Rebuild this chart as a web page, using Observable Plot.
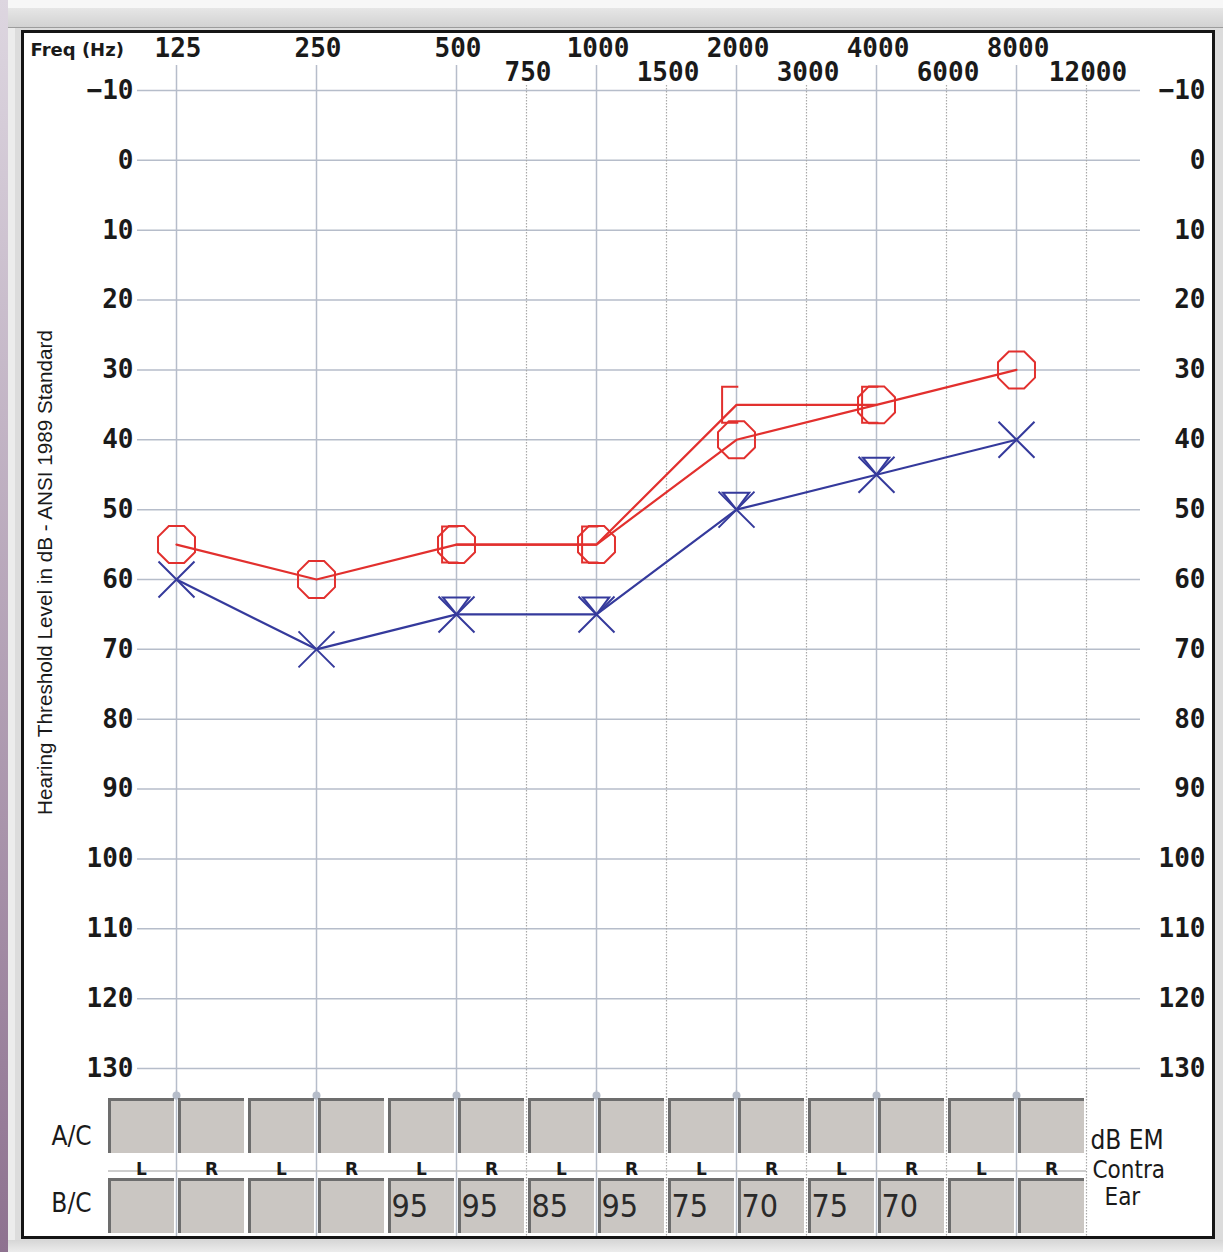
<!DOCTYPE html>
<html><head><meta charset="utf-8">
<script src="https://cdn.jsdelivr.net/npm/d3@7"></script>
<script src="https://cdn.jsdelivr.net/npm/@observablehq/plot@0.6"></script>
<style>
html,body{margin:0;padding:0;}
body{width:1223px;height:1252px;position:relative;overflow:hidden;background:#dcdcdc;}
#topband{position:absolute;left:0;top:0;width:1223px;height:8px;background:#f7f7f7;}
#band{position:absolute;left:0;top:8px;width:1223px;height:19px;background:linear-gradient(#e6e6e6,#d2d2d2);border-bottom:1px solid #9c9c9c;}
#leftstrip{position:absolute;left:0;top:0;width:8px;height:1252px;background:linear-gradient(#ddd6e0,#8e7290);}
#leftlight{position:absolute;left:8px;top:28px;width:7px;height:1224px;background:#ececec;}
#bottomband{position:absolute;left:8px;top:1240px;width:1215px;height:12px;background:linear-gradient(#d6d6d6,#ececec);}
#panel{position:absolute;left:21px;top:30px;width:1188px;height:1203px;background:#fff;border:3px solid #151515;}
#main,#table{position:absolute;left:0;}
#main{top:0;}
#table{top:1090px;}
g[aria-label="ticklabels"] text{letter-spacing:3px;}
g[aria-label="freqhz"] text{letter-spacing:0.5px;}
g[aria-label="narrow"] text{letter-spacing:-1px;}
</style>
</head><body>
<div id="topband"></div><div id="band"></div><div id="leftstrip"></div><div id="leftlight"></div><div id="bottomband"></div>
<div id="panel"></div>
<div id="main"></div>
<div id="table"></div>
<script>
// ---- data ----
const dbTicks = [-10,0,10,20,30,40,50,60,70,80,90,100,110,120,130];
const octaveFreqs = [125,250,500,1000,2000,4000,8000];
const octaveLabels = ["125","250","500","1000","2000","4000","8000"];
const midFreqs = [750,1500,3000,6000,12000];
const midLabels = ["750","1500","3000","6000","12000"];

// Right ear (red): air conduction O, masked bone [
const rightAirFreqs = [125,250,500,1000,2000,4000,8000];
const rightAir = [55,60,55,55,40,35,30];
const rightBoneFreqs = [500,1000,2000,4000];
const rightBone = [55,55,35,35];
// Left ear (blue): air conduction X, masked symbol
const leftAirFreqs = [125,250,500,1000,2000,4000,8000];
const leftAir = [60,70,65,65,50,45,40];
const leftMaskFreqs = [500,1000,2000,4000];
const leftMask = [65,65,50,45];

// masking table (dB EM, contra ear)
const tableRows = ["A/C","B/C"];
const ears = ["L","R"];
const acL = [null,null,null,null,null,null,null];
const acR = [null,null,null,null,null,null,null];
const bcL = [null,null,95,85,75,75,null];
const bcR = [null,null,95,95,70,70,null];

const yTitle = "Hearing Threshold Level in dB - ANSI 1989 Standard";

// ---- helpers ----
const pos = f => Math.round(2 * Math.log2(f / 125)); // audiogram half-octave position
const pts = (fs, vs) => fs.map((f, i) => ({f, db: vs[i]}));
const RED = "#e2302e", BLUE = "#353a9c", GRID = "#b6bdca", TXT = "#1a1a1a";
const MONO = "DejaVu Sans Mono, monospace";
const NARROW = "DejaVu Sans Condensed, Liberation Sans Narrow, sans-serif";

const octagon = {draw(c, size){ const r = Math.sqrt(size/Math.PI);
  for (let i = 0; i < 8; i++){ const a = Math.PI/8 + i*Math.PI/4; const x = r*Math.cos(a), y = r*Math.sin(a); i ? c.lineTo(x,y) : c.moveTo(x,y);} c.closePath(); }};
const cross = {draw(c, size){ const r = Math.sqrt(size/Math.PI);
  c.moveTo(-r,-r); c.lineTo(r,r); c.moveTo(r,-r); c.lineTo(-r,r); }};
const bracket = {draw(c, size){ const r = Math.sqrt(size/Math.PI);
  c.moveTo(0.1*r,-r); c.lineTo(-0.8*r,-r); c.lineTo(-0.8*r,r); c.lineTo(0.1*r,r); }};
const tri = {draw(c, size){ const r = Math.sqrt(size/Math.PI);
  c.moveTo(-0.8*r,-r); c.lineTo(0.75*r,-r); c.lineTo(0,0); c.closePath(); }};

const fmt = d => d < 0 ? "\u2212" + Math.abs(d) : String(d);

const R_AIR = pts(rightAirFreqs, rightAir), R_BONE = pts(rightBoneFreqs, rightBone);
const L_AIR = pts(leftAirFreqs, leftAir), L_MASK = pts(leftMaskFreqs, leftMask);

const tickFont = {fontFamily: MONO, fontSize: 26, fontWeight: "bold", fill: TXT};

const main = Plot.plot({
  width: 1223, height: 1100,
  marginLeft: 106, marginRight: 137, marginTop: 90, marginBottom: 32,
  x: {type: "linear", domain: [-1, 13], axis: null},
  y: {domain: [-10, 130], reverse: true, axis: null},
  style: {background: "transparent", overflow: "visible"},
  marks: [
    Plot.ruleY(dbTicks, {y: d => d, insetLeft: 31, insetRight: -54, stroke: GRID, strokeWidth: 1.5}),
    Plot.ruleX(octaveFreqs, {x: pos, insetTop: -25, insetBottom: -32, stroke: GRID, strokeWidth: 1.5}),
    Plot.ruleX(midFreqs, {x: pos, insetTop: -5, insetBottom: -32, stroke: "#a9a9a9", strokeWidth: 1.2, strokeDasharray: "1.5,1.5"}),
    Plot.line(R_AIR, {x: d => pos(d.f), y: "db", stroke: RED, strokeWidth: 2.2}),
    Plot.line(R_BONE, {x: d => pos(d.f), y: "db", stroke: RED, strokeWidth: 2.2}),
    Plot.line(L_AIR, {x: d => pos(d.f), y: "db", stroke: BLUE, strokeWidth: 2.2}),
    Plot.dot(R_AIR, {x: d => pos(d.f), y: "db", symbol: octagon, r: 20, stroke: RED, fill: "none", strokeWidth: 2}),
    Plot.dot(R_BONE, {x: d => pos(d.f), y: "db", symbol: bracket, r: 18, stroke: RED, fill: "none", strokeWidth: 2}),
    Plot.dot(L_AIR, {x: d => pos(d.f), y: "db", symbol: cross, r: 18, stroke: BLUE, fill: "none", strokeWidth: 2}),
    Plot.dot(L_MASK, {x: d => pos(d.f), y: "db", symbol: tri, r: 17, stroke: BLUE, fill: "none", strokeWidth: 2}),
    Plot.text(dbTicks, {ariaLabel: "ticklabels", y: d => d, text: fmt, frameAnchor: "left", dx: 27, textAnchor: "end", lineAnchor: "middle", ...tickFont}),
    Plot.text(dbTicks, {ariaLabel: "ticklabels", y: d => d, text: fmt, frameAnchor: "right", dx: 119, textAnchor: "end", lineAnchor: "middle", ...tickFont}),
    Plot.text(octaveFreqs, {ariaLabel: "ticklabels", x: pos, text: (d, i) => octaveLabels[i], frameAnchor: "top", dy: -42, dx: 1.5, lineAnchor: "middle", ...tickFont}),
    Plot.text(midFreqs, {ariaLabel: "ticklabels", x: pos, text: (d, i) => midLabels[i], frameAnchor: "top", dy: -18, dx: 1.5, lineAnchor: "middle", ...tickFont}),
    Plot.text(["Freq (Hz)"], {ariaLabel: "freqhz", text: d => d, frameAnchor: "top-left", dx: -76, dy: -40, textAnchor: "start", lineAnchor: "middle", fontFamily: "DejaVu Sans, sans-serif", fontWeight: "bold", fontSize: 18, fill: TXT}),
    Plot.text([yTitle], {text: d => d, frameAnchor: "left", dx: -61, dy: -7, rotate: -90, textAnchor: "middle", lineAnchor: "middle", fontFamily: "Liberation Sans, Arial, sans-serif", fontSize: 20.7, fill: TXT})
  ]
});
document.getElementById("main").appendChild(main);

// ---- masking table ----
const boxes = [];
tableRows.forEach(row => octaveFreqs.forEach((f, i) => ears.forEach(ear => {
  const v = row === "A/C" ? (ear === "L" ? acL[i] : acR[i]) : (ear === "L" ? bcL[i] : bcR[i]);
  boxes.push({row, f, ear, value: v, x1: ear === "L" ? pos(f) - 1 : pos(f), x2: ear === "L" ? pos(f) : pos(f) + 1});
})));
const stripCells = boxes.filter(d => d.row === "A/C");

const table = Plot.plot({
  width: 1223, height: 150,
  marginLeft: 106, marginRight: 137, marginTop: 8, marginBottom: 7,
  x: {type: "linear", domain: [-1, 13], axis: null},
  y: {type: "band", domain: tableRows, paddingInner: 0.3125, paddingOuter: 0, axis: null},
  style: {background: "transparent", overflow: "visible"},
  marks: [
    Plot.ruleX(octaveFreqs, {x: pos, insetTop: -8, insetBottom: -3, stroke: GRID, strokeWidth: 1.5}),
    Plot.ruleX(midFreqs, {x: pos, insetTop: -8, insetBottom: -3, stroke: "#a9a9a9", strokeWidth: 1.2, strokeDasharray: "1.5,1.5"}),
    Plot.dot(octaveFreqs, {x: pos, frameAnchor: "top", dy: -3, r: 4, fill: GRID}),
    Plot.ruleY(["A/C"], {y: d => d, dy: 45, stroke: "#bdbdbd", strokeWidth: 1.5, insetLeft: 2}),
    Plot.barX(boxes, {x1: "x1", x2: "x2", y: "row", fill: "#6d6d6d", insetLeft: 2, insetRight: 2}),
    Plot.barX(boxes, {x1: "x1", x2: "x2", y: "row", fill: "#cac6c2", insetLeft: 5, insetTop: 3, insetRight: 2}),
    Plot.text(stripCells, {x: d => (d.x1 + d.x2) / 2, y: "row", dy: 44, text: "ear", fontFamily: "DejaVu Sans, sans-serif", fontWeight: "bold", fontSize: 17, fill: TXT}),
    Plot.text(boxes.filter(d => d.value != null), {ariaLabel: "narrow", x: "x1", y: "row", dx: 5, dy: 1, text: "value", textAnchor: "start", fontFamily: NARROW, fontSize: 32, fill: "#2a2a2a"}),
    Plot.text(["A/C"], {y: d => d, text: d => d, frameAnchor: "left", dx: -35, dy: 11, textAnchor: "middle", lineAnchor: "middle", fontFamily: NARROW, fontSize: 26, fill: TXT}),
    Plot.text(["B/C"], {y: d => d, text: d => d, frameAnchor: "left", dx: -35, dy: -2, textAnchor: "middle", lineAnchor: "middle", fontFamily: NARROW, fontSize: 26, fill: TXT}),
    Plot.text(["dB EM"], {ariaLabel: "narrow", text: d => d, frameAnchor: "top-right", dx: 4, dy: 42, textAnchor: "start", lineAnchor: "middle", fontFamily: NARROW, fontSize: 26, fill: TXT}),
    Plot.text(["Contra"], {ariaLabel: "narrow", text: d => d, frameAnchor: "top-right", dx: 6, dy: 72, textAnchor: "start", lineAnchor: "middle", fontFamily: NARROW, fontSize: 24, fill: TXT}),
    Plot.text(["Ear"], {ariaLabel: "narrow", text: d => d, frameAnchor: "top-right", dx: 18, dy: 99, textAnchor: "start", lineAnchor: "middle", fontFamily: NARROW, fontSize: 24, fill: TXT})
  ]
});
document.getElementById("table").appendChild(table);
</script>
</body></html>
